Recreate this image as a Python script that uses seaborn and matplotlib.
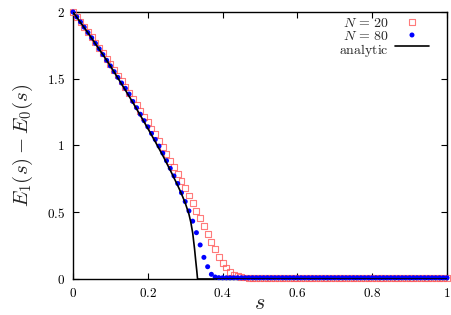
import numpy as np
import pandas as pd
import seaborn as sns
import matplotlib
matplotlib.use("Agg")
import matplotlib.pyplot as plt
from matplotlib.ticker import FuncFormatter, MultipleLocator

# grid of s values used by both finite-size runs
s_grid = np.linspace(0, 1, 101)

gap_n20 = [
    2.000, 1.964, 1.927, 1.889, 1.850, 1.811, 1.771, 1.731, 1.690, 1.649,
    1.607, 1.566, 1.524, 1.482, 1.440, 1.396, 1.350, 1.305, 1.260, 1.216,
    1.173, 1.127, 1.083, 1.036, 0.987, 0.935, 0.886, 0.837, 0.787, 0.734,
    0.679, 0.625, 0.567, 0.512, 0.455, 0.397, 0.336, 0.276, 0.222, 0.168,
    0.120, 0.086, 0.054, 0.033, 0.021, 0.015, 0.011, 0.009, 0.008, 0.008,
    0.008, 0.008, 0.008, 0.008, 0.008, 0.008, 0.008, 0.008, 0.008, 0.008,
    0.008, 0.008, 0.008, 0.008, 0.008, 0.008, 0.008, 0.008, 0.008, 0.008,
    0.008, 0.008, 0.008, 0.008, 0.008, 0.008, 0.008, 0.008, 0.008, 0.008,
    0.008, 0.008, 0.008, 0.008, 0.008, 0.008, 0.008, 0.008, 0.008, 0.008,
    0.008, 0.008, 0.008, 0.008, 0.008, 0.008, 0.008, 0.008, 0.008, 0.008,
    0.008,
]

gap_n80 = [
    2.000, 1.963, 1.925, 1.886, 1.846, 1.806, 1.765, 1.724, 1.681, 1.638,
    1.596, 1.553, 1.510, 1.468, 1.428, 1.385, 1.330, 1.283, 1.234, 1.186,
    1.140, 1.090, 1.045, 0.995, 0.943, 0.886, 0.829, 0.772, 0.715, 0.646,
    0.580, 0.510, 0.433, 0.347, 0.255, 0.162, 0.092, 0.035, 0.015, 0.010,
    0.009, 0.009, 0.009, 0.009, 0.009, 0.009, 0.009, 0.009, 0.009, 0.009,
    0.009, 0.009, 0.009, 0.009, 0.009, 0.009, 0.009, 0.009, 0.009, 0.009,
    0.009, 0.009, 0.009, 0.009, 0.009, 0.009, 0.009, 0.009, 0.009, 0.009,
    0.009, 0.009, 0.009, 0.009, 0.009, 0.009, 0.009, 0.009, 0.009, 0.009,
    0.009, 0.009, 0.009, 0.009, 0.009, 0.009, 0.009, 0.009, 0.009, 0.009,
    0.009, 0.009, 0.009, 0.009, 0.009, 0.009, 0.009, 0.009, 0.009, 0.009,
    0.009,
]

# analytic curve
s_analytic = [0.00, 0.02, 0.04, 0.06, 0.08, 0.10, 0.12, 0.14, 0.16, 0.18,
              0.20, 0.22, 0.24, 0.26, 0.28, 0.29, 0.30, 0.31, 0.315, 0.32,
              0.325, 0.328, 0.331, 0.333, 1.00]
gap_analytic = [2.000, 1.922, 1.843, 1.762, 1.680, 1.595, 1.505, 1.415, 1.322, 1.226,
                1.128, 1.028, 0.925, 0.815, 0.700, 0.638, 0.570, 0.485, 0.425, 0.345,
                0.225, 0.140, 0.060, 0.000, 0.000]

df20 = pd.DataFrame({"s": s_grid, "gap": gap_n20})
df80 = pd.DataFrame({"s": s_grid, "gap": gap_n80})
dfa = pd.DataFrame({"s": s_analytic, "gap": gap_analytic})

sns.set_style("ticks")
plt.rcParams["mathtext.fontset"] = "cm"
plt.rcParams["font.family"] = ["DejaVu Serif"]

fig = plt.figure(figsize=(4.52, 3.15), dpi=100)
ax = fig.add_axes([0.1615, 0.1143, 0.8275, 0.8477])

sns.scatterplot(data=df20, x="s", y="gap", ax=ax, marker="s", s=18,
                facecolor="none", edgecolor="#ff5a5a", linewidth=0.8, alpha=0.8,
                label=r"$N\,=\,20$", clip_on=False, zorder=3)
sns.scatterplot(data=df80, x="s", y="gap", ax=ax, marker="o", s=13,
                color="#0000ff", edgecolor="none",
                label=r"$N\,=\,80$", clip_on=False, zorder=4)
sns.lineplot(data=dfa, x="s", y="gap", ax=ax, color="black", linewidth=1.2,
             estimator=None, sort=False, label=r"$\mathrm{analytic}$", zorder=5)

ax.set_xlim(0, 1)
ax.set_ylim(0, 2)
ax.xaxis.set_major_locator(MultipleLocator(0.2))
ax.yaxis.set_major_locator(MultipleLocator(0.5))
fmt = FuncFormatter(lambda v, p: f"${v:g}$")
ax.xaxis.set_major_formatter(fmt)
ax.yaxis.set_major_formatter(fmt)
ax.tick_params(direction="in", length=4, width=0.8, labelsize=9.5,
               top=True, right=True, pad=6, colors="black")
for sp in ax.spines.values():
    sp.set_linewidth(1.0)
    sp.set_color("black")

ax.set_xlabel("$s$", fontsize=16, labelpad=-6)
ax.set_ylabel("$E_1(s) - E_0(s)$", fontsize=15, labelpad=8)

leg = ax.legend(loc="upper right", bbox_to_anchor=(0.975, 1.015), frameon=False,
                markerfirst=False, fontsize=10, handlelength=2.5,
                handletextpad=0.4, labelspacing=-0.1, borderaxespad=0.2)
# right-align legend text
for vp in leg._legend_handle_box.get_children():
    for c in vp.get_children():
        c.align = "right"
leg._legend_handle_box.align = "right"
for c in leg._legend_handle_box.get_children():
    c.align = "right"

fig.savefig("out.png", dpi=100)
